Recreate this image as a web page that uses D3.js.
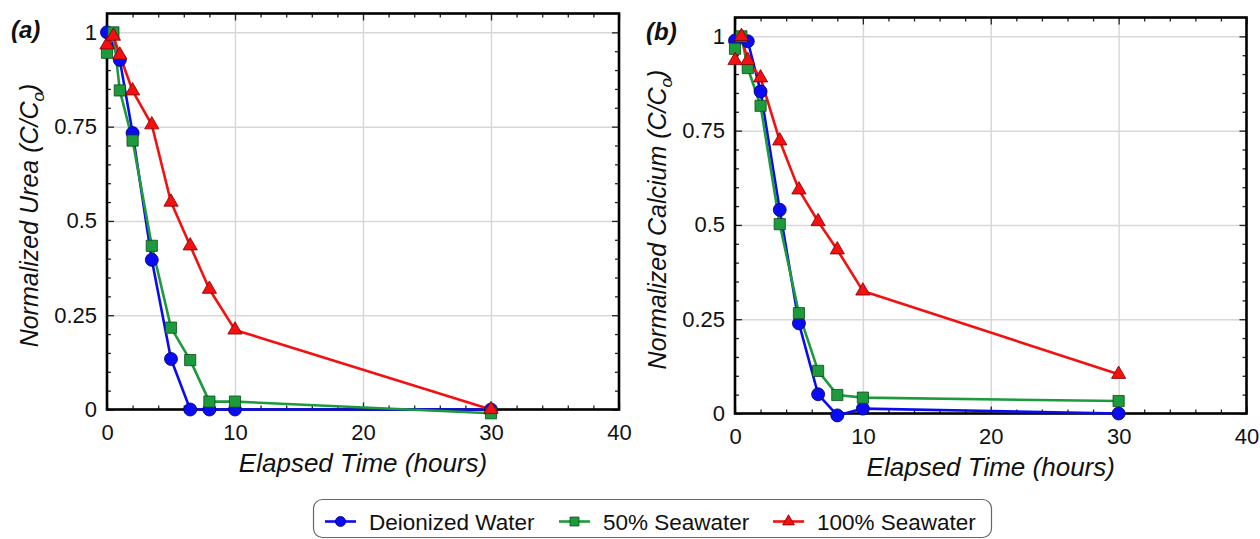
<!DOCTYPE html>
<html>
<head>
<meta charset="utf-8">
<script src="https://cdn.jsdelivr.net/npm/d3@7"></script>
<style>
  html, body { margin: 0; padding: 0; background: #fff; }
  svg { display: block; font-family: "Liberation Sans", Arial, sans-serif; }
</style>
</head>
<body>
<svg id="chart" width="1260" height="539"></svg>
<script>
// ---------------- data ----------------
const seriesNames = ["Deionized Water", "50% Seawater", "100% Seawater"];
const timeDI = [0, 1, 2, 3.5, 5, 6.5, 8, 10, 30];
const timeSW = [0, 0.5, 1, 2, 3.5, 5, 6.5, 8, 10, 30];

const ureaDI    = [1.0, 0.927, 0.733, 0.397, 0.134, 0, 0, 0, 0];
const ureaSW50  = [0.946, 1.0, 0.846, 0.713, 0.434, 0.217, 0.131, 0.021, 0.021, -0.01];
const ureaSW100 = [0.967, 0.99, 0.94, 0.845, 0.755, 0.55, 0.434, 0.319, 0.211, 0];

const calciumDI    = [0.989, 0.987, 0.854, 0.54, 0.239, 0.051, -0.005, 0.013, 0];
const calciumSW50  = [0.967, 1.0, 0.916, 0.816, 0.502, 0.266, 0.113, 0.049, 0.042, 0.033];
const calciumSW100 = [0.936, 1.0, 0.936, 0.89, 0.723, 0.593, 0.509, 0.434, 0.325, 0.104];

const xTicks = [0, 10, 20, 30, 40];
const xMinorTicks = [2, 4, 6, 8, 12, 14, 16, 18, 22, 24, 26, 28, 32, 34, 36, 38];
const yTicks = [0, 0.25, 0.5, 0.75, 1];
const yTickLabels = ["0", "0.25", "0.5", "0.75", "1"];
const yMinorTicks = [0.05, 0.1, 0.15, 0.2, 0.3, 0.35, 0.4, 0.45, 0.55, 0.6, 0.65, 0.7, 0.8, 0.85, 0.9, 0.95];

// ---------------- styles ----------------
const colors = ["#0b0bf2", "#1c9a3c", "#f41010"];
const strokes = ["#00006a", "#0d4a1a", "#7a0000"];
const symbols = [d3.symbolCircle, d3.symbolSquare, d3.symbolTriangle];
const symSizes = [133, 125, 88];

const svg = d3.select("#chart");

function panel(opts) {
  const { left, top, width, height, label, yTitle, series } = opts;
  const g = svg.append("g").attr("transform", `translate(${left},${top})`);
  const x = d3.scaleLinear().domain([0, 40]).range([0, width]);
  const y = d3.scaleLinear().domain([0, 1.05]).range([height, 0]);

  // grid
  g.append("g").attr("class", "grid")
    .call(d3.axisBottom(x).tickValues([10, 20, 30]).tickSize(-height).tickFormat(""))
    .attr("transform", `translate(0,${height})`)
    .call(s => s.select(".domain").remove())
    .call(s => s.selectAll("line").attr("stroke", "#d8d8d8").attr("stroke-width", 1.5));
  g.append("g").attr("class", "grid")
    .call(d3.axisLeft(y).tickValues([0.25, 0.5, 0.75, 1]).tickSize(-width).tickFormat(""))
    .call(s => s.select(".domain").remove())
    .call(s => s.selectAll("line").attr("stroke", "#d8d8d8").attr("stroke-width", 1.5));

  // ticks (inward) on all four sides
  const tickStyle = s => {
    s.select(".domain").remove();
    s.selectAll("line").attr("stroke", "#222").attr("stroke-width", 1.3);
  };
  g.append("g").attr("transform", `translate(0,${height})`)
    .call(d3.axisBottom(x).tickValues(xTicks).tickSize(-7).tickPadding(15)
      .tickFormat(d3.format("d")))
    .call(tickStyle)
    .call(s => s.selectAll("text").attr("font-size", 22).attr("fill", "#111")
      .attr("font-family", "Liberation Sans, Arial, sans-serif"));
  g.append("g").attr("transform", `translate(0,${height})`)
    .call(d3.axisBottom(x).tickValues(xMinorTicks).tickSize(-4).tickFormat("")).call(tickStyle);
  g.append("g")
    .call(d3.axisTop(x).tickValues(xTicks).tickSize(-7).tickFormat("")).call(tickStyle);
  g.append("g")
    .call(d3.axisTop(x).tickValues(xMinorTicks).tickSize(-4).tickFormat("")).call(tickStyle);

  g.append("g")
    .call(d3.axisLeft(y).tickValues(yTicks).tickSize(-7).tickPadding(10)
      .tickFormat((d, i) => yTickLabels[i]))
    .call(tickStyle)
    .call(s => s.selectAll("text").attr("font-size", 22).attr("fill", "#111")
      .attr("font-family", "Liberation Sans, Arial, sans-serif"));
  g.append("g")
    .call(d3.axisLeft(y).tickValues(yMinorTicks).tickSize(-4).tickFormat("")).call(tickStyle);
  g.append("g").attr("transform", `translate(${width},0)`)
    .call(d3.axisRight(y).tickValues(yTicks).tickSize(-7).tickFormat("")).call(tickStyle);
  g.append("g").attr("transform", `translate(${width},0)`)
    .call(d3.axisRight(y).tickValues(yMinorTicks).tickSize(-4).tickFormat("")).call(tickStyle);

  // frame
  g.append("rect").attr("x", 0).attr("y", 0).attr("width", width).attr("height", height)
    .attr("fill", "none").attr("stroke", "#000").attr("stroke-width", 2.6);

  // series
  const line = d3.line().x(d => x(d[0])).y(d => y(d[1]));
  series.forEach((s, i) => {
    const pts = s.t.map((t, k) => [t, s.v[k]]);
    g.append("path").datum(pts).attr("d", line)
      .attr("fill", "none").attr("stroke", colors[i]).attr("stroke-width", 2.6)
      .attr("stroke-linejoin", "round");
  });
  series.forEach((s, i) => {
    const pts = s.t.map((t, k) => [t, s.v[k]]);
    g.selectAll(null).data(pts).join("path")
      .attr("transform", d => `translate(${x(d[0])},${y(d[1])})`)
      .attr("d", d3.symbol().type(symbols[i]).size(symSizes[i]))
      .attr("fill", colors[i]).attr("stroke", strokes[i]).attr("stroke-width", 0.8);
  });

  // titles
  g.append("text")
    .attr("x", width / 2).attr("y", height + 62)
    .attr("text-anchor", "middle").attr("font-size", 26).attr("font-style", "italic")
    .attr("fill", "#111")
    .text("Elapsed Time (hours)");

  const yt = g.append("text")
    .attr("transform", `translate(${opts.yTitleX},${height / 2 + 4}) rotate(-90)`)
    .attr("text-anchor", "middle").attr("font-size", 25).attr("font-style", "italic")
    .attr("fill", "#111");
  yt.append("tspan").text(yTitle + " (C/C");
  yt.append("tspan").attr("font-size", 17).attr("dy", 6).text("o");
  yt.append("tspan").attr("dy", -6).text(")");

  svg.append("text")
    .attr("x", opts.labelX).attr("y", opts.labelY)
    .attr("font-size", 24).attr("font-weight", "bold").attr("font-style", "italic")
    .attr("fill", "#111")
    .text(label);
}

panel({
  left: 107, top: 13.5, width: 512, height: 396,
  label: "(a)", labelX: 11, labelY: 38, yTitleX: -69,
  yTitle: "Normalized Urea",
  series: [
    { t: timeDI, v: ureaDI },
    { t: timeSW, v: ureaSW50 },
    { t: timeSW, v: ureaSW100 }
  ]
});

panel({
  left: 735, top: 17.5, width: 511.5, height: 396,
  label: "(b)", labelX: 646, labelY: 40, yTitleX: -69,
  yTitle: "Normalized Calcium",
  series: [
    { t: timeDI, v: calciumDI },
    { t: timeSW, v: calciumSW50 },
    { t: timeSW, v: calciumSW100 }
  ]
});

// ---------------- legend ----------------
const legend = svg.append("g");
legend.append("rect").attr("x", 313.5).attr("y", 499.5).attr("width", 678).attr("height", 38)
  .attr("rx", 9).attr("fill", "#fff").attr("stroke", "#666").attr("stroke-width", 1.2);
const legendX = [325, 559, 773];
const legendCY = 521.5;
const legendSym = [80, 80, 60];
seriesNames.forEach((name, i) => {
  const lx = legendX[i];
  legend.append("line").attr("x1", lx).attr("x2", lx + 31)
    .attr("y1", legendCY).attr("y2", legendCY)
    .attr("stroke", colors[i]).attr("stroke-width", 2.6);
  legend.append("path")
    .attr("transform", `translate(${lx + 15.5},${legendCY})`)
    .attr("d", d3.symbol().type(symbols[i]).size(legendSym[i]))
    .attr("fill", colors[i]).attr("stroke", strokes[i]).attr("stroke-width", 0.8);
  legend.append("text").attr("x", lx + 44).attr("y", legendCY + 8)
    .attr("font-size", 22.5).attr("fill", "#111").text(name);
});
</script>
</body>
</html>
